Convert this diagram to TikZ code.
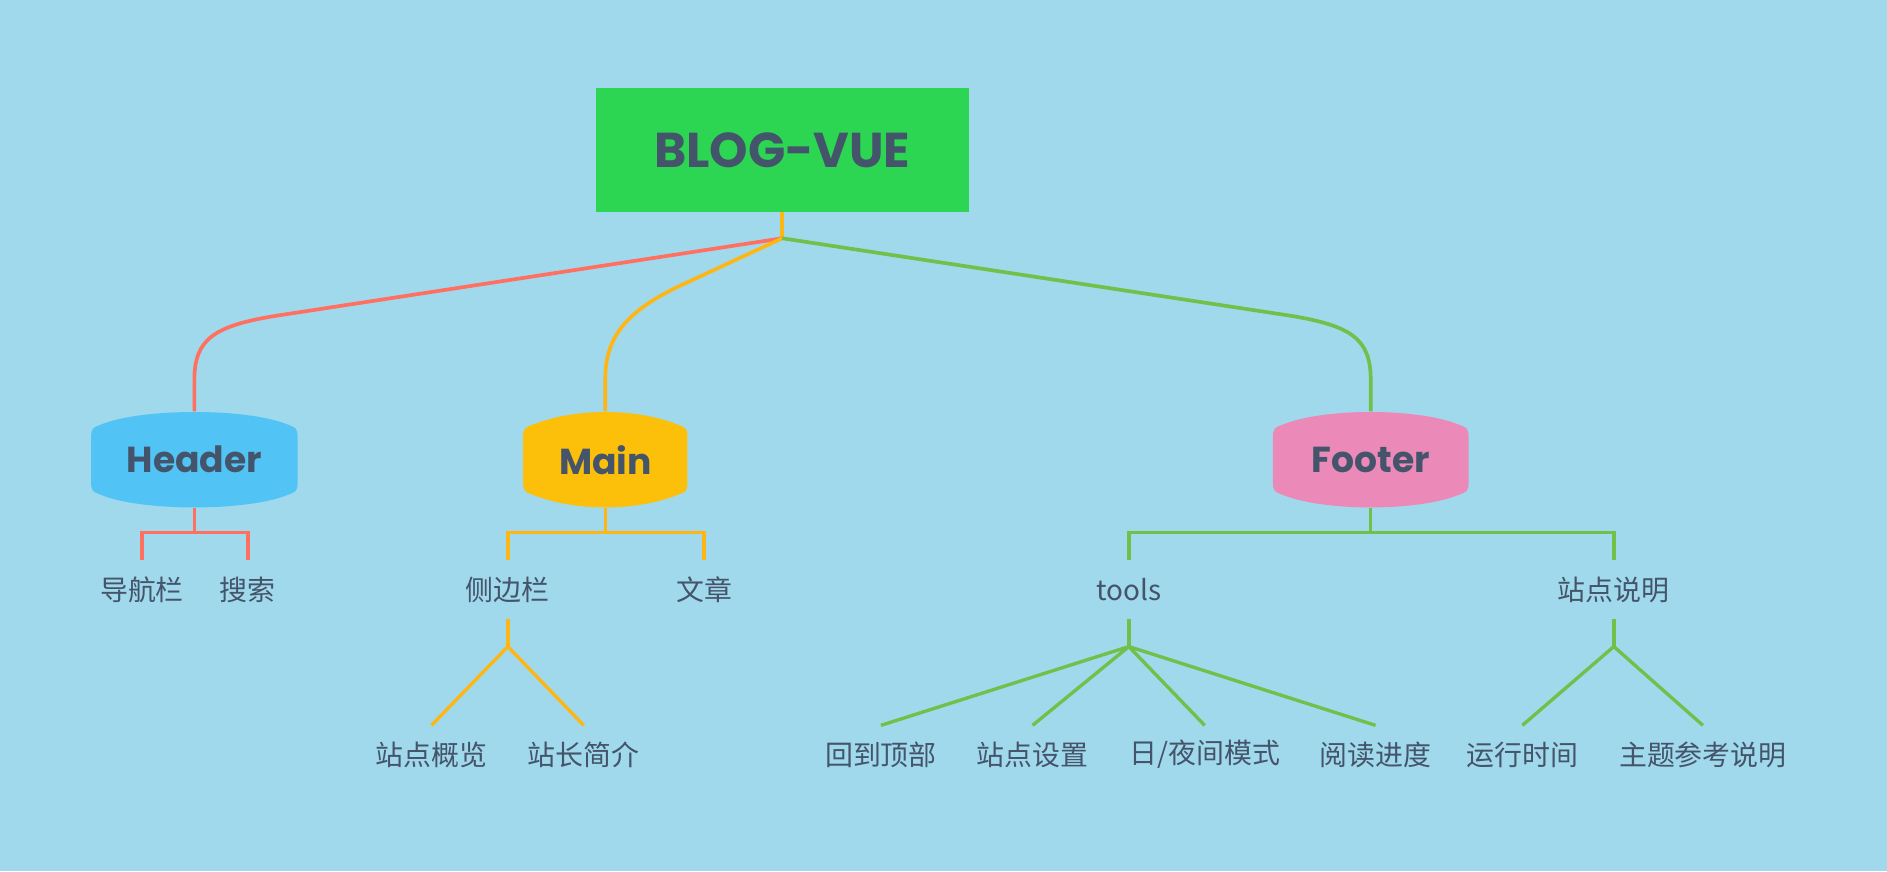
\documentclass[tikz,border=0pt]{standalone}
\usepackage{fontspec}
\usepackage{tikz}
\usetikzlibrary{calc,backgrounds}
\newfontfamily\hubfont{Poppins}
\newfontfamily\cjk{Noto Sans CJK SC}
\definecolor{bgblue}{RGB}{161,217,236}
\definecolor{rootgreen}{RGB}{44,214,82}
\definecolor{txtslate}{RGB}{68,84,106}
\definecolor{hdrblue}{RGB}{81,196,245}
\definecolor{mainyellow}{RGB}{253,192,10}
\definecolor{ftrpink}{RGB}{235,137,184}
\definecolor{lnred}{RGB}{255,112,96}
\definecolor{lnyellow}{RGB}{253,182,20}
\definecolor{lngreen}{RGB}{112,192,74}

\begin{document}
\begin{tikzpicture}[x=0.75pt,y=0.75pt,yscale=-1,xscale=1,
  hub/.style={minimum height=60pt, inner sep=0pt, text=txtslate, font=\hubfont\bfseries\fontsize{22.5}{26}\selectfont},
  leaf/.style={minimum height=36pt, inner sep=0pt, text=txtslate, font=\cjk\fontsize{17.4}{21}\selectfont},
  branch/.style={line width=2.3pt},
  twig/.style={line width=2.1pt}]
\useasboundingbox (0,0) rectangle (1568,724);

% Root Node
\node [fill=rootgreen, minimum width=232.5pt, minimum height=77.25pt, inner sep=0pt, text=txtslate, font=\hubfont\bfseries\fontsize{30.5}{34}\selectfont] (blog) at (650,124.5) {BLOG-VUE};
\coordinate (fork) at (650,198);

% Hub Nodes
\node [hub, minimum width=128.25pt] (hdr) at (161.5,382) {Header};
\node [hub, minimum width=102pt] (mn) at (503,382) {Main};
\node [hub, minimum width=121.5pt] (ftr) at (1139,382) {Footer};

% Text Node
\node [leaf] (nav) at (118,490) {导航栏};
\node [leaf] (srch) at (206,490) {搜索};
\node [leaf] (side) at (422,490) {侧边栏};
\node [leaf] (art) at (585,490) {文章};
\node [leaf] (tools) at (938,490) {tools};
\node [leaf] (about) at (1341,490) {站点说明};
% Text Node
\node [leaf] (ovw) at (358.5,627) {站点概览};
\node [leaf] (bio) at (485,627) {站长简介};
\node [leaf] (totop) at (732,627) {回到顶部};
\node [leaf] (cfg) at (858,627) {站点设置};
\node [leaf] (dark) at (1001,627) {日/夜间模式};
\node [leaf] (prog) at (1143,627) {阅读进度};
\node [leaf] (uptime) at (1265,627) {运行时间};
\node [leaf] (theme) at (1415,627) {主题参考说明};

%Shape: Background and hub outlines
\begin{pgfonlayer}{background}
\fill [bgblue] (0,0) rectangle (1568,724);
\foreach \n/\c in {hdr/hdrblue, mn/mainyellow, ftr/ftrpink}{
  \fill [\c] ($(\n.north west)+(0,23)$) .. controls ($(\n.north west)+(0,14)$) .. ($(\n.north west)+(11,10)$)
    .. controls ($(\n.north west)+(45,-2.5)$) and ($(\n.north east)+(-45,-2.5)$) .. ($(\n.north east)+(-11,10)$)
    .. controls ($(\n.north east)+(0,14)$) .. ($(\n.north east)+(0,23)$)
    -- ($(\n.south east)+(0,-23)$) .. controls ($(\n.south east)+(0,-14)$) .. ($(\n.south east)+(-11,-10)$)
    .. controls ($(\n.south east)+(-45,2.5)$) and ($(\n.south west)+(45,2.5)$) .. ($(\n.south west)+(11,-10)$)
    .. controls ($(\n.south west)+(0,-14)$) .. ($(\n.south west)+(0,-23)$) -- cycle ;
}
\end{pgfonlayer}

%Straight Lines
\draw [lnyellow, line width=2.2pt] (blog.south) -- (fork) ;
%Curve Lines
\draw [branch, lnred] (fork) -- (232,262) .. controls (177,270.5) and (161.5,282) .. (161.5,316) -- (hdr.north) ;
\draw [branch, lnyellow] (fork) -- (566,237) .. controls (521,258) and (503,280) .. (503,314) -- (mn.north) ;
\draw [branch, lngreen] (fork) -- (1070,262) .. controls (1124,270.5) and (1139,282) .. (1139,316) -- (ftr.north) ;

%Straight Lines
\draw [twig, lnred] (hdr.south) -- ++(0,20) ;
\draw [twig, lnred] (nav.north) |- ($(hdr.south)+(0,20)$) -| (srch.north) ;
\draw [twig, lnyellow] (mn.south) -- ++(0,20) ;
\draw [twig, lnyellow] (side.north) |- ($(mn.south)+(0,20)$) -| (art.north) ;
\draw [twig, lngreen] (ftr.south) -- ++(0,20) ;
\draw [twig, lngreen] (tools.north) |- ($(ftr.south)+(0,20)$) -| (about.north) ;

%Straight Lines
\draw [twig, lnyellow] (side.south) -- ++(0,23) coordinate (sidefork) ;
\draw [twig, lnyellow] (ovw.north) -- (sidefork) -- (bio.north) ;
\draw [twig, lngreen] (tools.south) -- ++(0,23) coordinate (toolsfork) ;
\foreach \m in {totop, cfg, dark, prog}
  \draw [twig, lngreen] (toolsfork) -- (\m.north) ;
\draw [twig, lngreen] (about.south) -- ++(0,23) coordinate (aboutfork) ;
\draw [twig, lngreen] (uptime.north) -- (aboutfork) -- (theme.north) ;

\end{tikzpicture}
\end{document}
